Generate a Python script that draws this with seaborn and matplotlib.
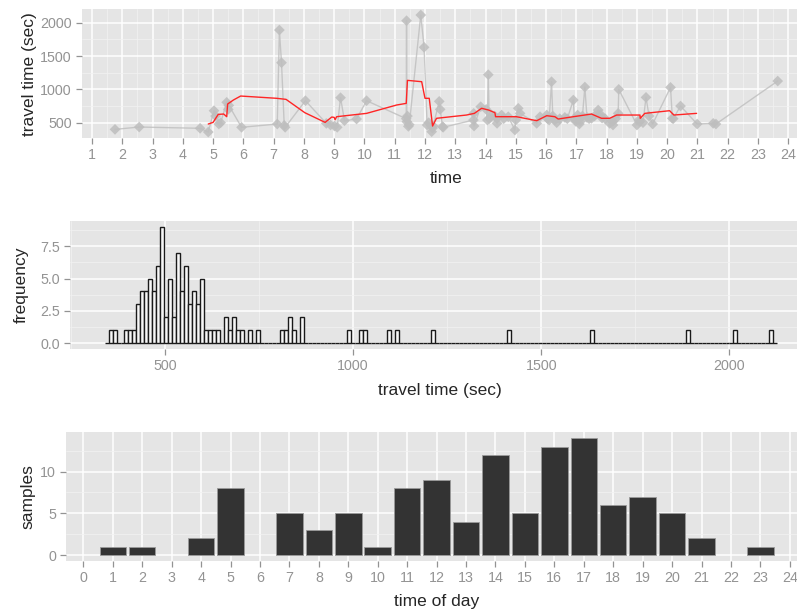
import numpy as np
import pandas as pd
import seaborn as sns
import matplotlib.pyplot as plt
from matplotlib.ticker import FixedLocator

# travel time samples (hour of day, seconds)
times = [1.76, 2.56, 4.57, 4.84,
         5.03, 5.08, 5.19, 5.25, 5.45, 5.50, 5.52, 5.94,
         7.12, 7.19, 7.26, 7.35, 7.38,
         8.05, 8.74, 8.88,
         9.01, 9.10, 9.21, 9.34, 9.74,
         10.07,
         11.38, 11.39, 11.40, 11.42, 11.45, 11.48, 11.86, 11.97,
         12.07, 12.12, 12.22, 12.25, 12.27, 12.47, 12.50, 12.58, 12.60,
         13.60, 13.61, 13.62, 13.84,
         14.02, 14.06, 14.09, 14.12, 14.20, 14.30, 14.37, 14.38, 14.53, 14.60, 14.75, 14.97,
         15.00, 15.08, 15.14, 15.69, 15.80,
         16.02, 16.05, 16.10, 16.18, 16.22, 16.29, 16.35, 16.45, 16.62, 16.70, 16.90, 16.93, 16.98,
         17.04, 17.06, 17.10, 17.13, 17.20, 17.28, 17.35, 17.42, 17.50, 17.60, 17.72, 17.80, 17.85, 17.95,
         18.10, 18.20, 18.21, 18.30, 18.38, 18.40,
         19.00, 19.07, 19.10, 19.20, 19.30, 19.40, 19.52,
         20.11, 20.17, 20.20, 20.44, 20.99,
         21.52, 21.61,
         23.65]
travel = [400, 435, 416, 360,
          680, 600, 480, 500, 806, 700, 760, 431,
          480, 1890, 1400, 460, 431,
          830, 490, 465,
          450, 431, 875, 530, 555,
          830,
          560, 2030, 515, 600, 445, 470, 2115, 1631,
          465, 500, 365, 420, 450, 820, 700, 440, 431,
          540, 640, 450, 740,
          700, 540, 1220, 560, 615, 600, 566, 490, 615, 560, 590, 390,
          540, 716, 640, 490, 590,
          615, 560, 540, 1115, 600, 540, 500, 560, 580, 560, 840, 560, 520,
          615, 540, 480, 520, 600, 1035, 580, 560, 566, 600, 690, 620, 570, 560,
          490, 520, 465, 560, 640, 1000,
          465, 540, 520, 500, 880, 600, 480,
          1030, 566, 560, 750, 480,
          490, 480,
          1125]

# running average (red line)
avg_time = [4.84, 5.0, 5.17, 5.35, 5.45, 5.48, 5.67, 5.91, 7.1, 7.41, 8.03, 8.7, 8.92, 9.0,
            9.03, 9.08, 10.07, 11.06, 11.38, 11.42, 11.89, 12.0, 12.14, 12.25, 12.38, 13.37,
            13.63, 13.87, 14.1, 14.31, 14.33, 15.02, 15.69, 16.02, 16.29, 16.4, 16.9, 17.5,
            17.83, 18.1, 18.33, 19.1, 19.11, 19.26, 20.08, 20.22, 20.97]
avg_travel = [480, 505, 625, 630, 590, 780, 840, 900, 866, 850, 650, 505, 585, 580,
              545, 590, 640, 765, 790, 1135, 1115, 866, 866, 450, 566, 615,
              640, 716, 690, 650, 590, 590, 530, 605, 590, 555, 590, 630,
              566, 566, 615, 615, 566, 640, 680, 615, 640]

# histogram of travel time
hist_values = [356, 364, 396, 406, 417, 431, 442, 453, 464, 475, 485, 496, 506, 517, 526,
               536, 547, 558, 568, 578, 586, 596, 611, 622, 632, 643, 663, 673, 684, 694,
               705, 727, 742, 807, 818, 828, 839, 860, 990, 1019, 1030, 1099, 1116, 1211,
               1414, 1637, 1888, 2019, 2110]
hist_counts = [1, 1, 1, 1, 1, 3, 4, 4, 5, 4, 6, 9, 2, 5, 2,
               7, 4, 6, 3, 4, 3, 5, 1, 1, 1, 1, 2, 1, 2, 1,
               1, 1, 1, 1, 1, 2, 1, 2, 1, 1, 1, 1, 1, 1,
               1, 1, 1, 1, 1]

# samples per hour of day
hours = [1, 2, 4, 5, 7, 8, 9, 10, 11, 12, 13, 14, 15, 16, 17, 18, 19, 20, 21, 23]
hour_counts = [1, 1, 2, 8, 5, 3, 5, 1, 8, 9, 4, 12, 5, 13, 14, 6, 7, 5, 2, 1]

sns.set_theme(style="darkgrid", rc={
    "axes.facecolor": "#E5E5E5",
    "grid.color": "white",
    "axes.edgecolor": "#E5E5E5",
})
plt.rcParams["font.family"] = ["Liberation Sans", "DejaVu Sans"]

TICK_C = "#939393"
fig = plt.figure(figsize=(7.97, 6.11), dpi=100)
W, H = 797, 611


def add_panel(left, top, right, bottom):
    return fig.add_axes([left / W, 1 - bottom / H, (right - left) / W, (bottom - top) / H])


def style(ax):
    for s in ax.spines.values():
        s.set_visible(False)
    ax.grid(True, which="major", color="white", lw=1.1)
    ax.grid(True, which="minor", color="#F2F2F2", lw=0.5)
    ax.set_axisbelow(True)
    ax.tick_params(which="major", length=4, width=0.9, color=TICK_C, labelcolor=TICK_C,
                   labelsize=10.3, pad=3, bottom=True, left=True)
    ax.tick_params(which="minor", length=0, bottom=False, left=False)


# --- top: travel time over the day
ax1 = add_panel(81.7, 9.3, 811, 138.3)
df = pd.DataFrame({"time": times, "travel": travel})
sns.lineplot(data=df, x="time", y="travel", estimator=None, sort=False,
             color="#BEBEBE", lw=1, alpha=0.8, ax=ax1)
sns.scatterplot(data=df, x="time", y="travel", marker="D", s=30, color="#BEBEBE",
                edgecolor="none", alpha=0.85, ax=ax1)
sns.lineplot(x=avg_time, y=avg_travel, estimator=None, sort=False, color="#FF2525",
             lw=1.0, ax=ax1)
ax1.set_xlim(0.66, 24.75)
ax1.set_ylim(266, 2201)
ax1.xaxis.set_major_locator(FixedLocator(range(1, 25)))
ax1.xaxis.set_minor_locator(FixedLocator(np.arange(0.5, 25, 1.0)))
ax1.yaxis.set_major_locator(FixedLocator([500, 1000, 1500, 2000]))
ax1.yaxis.set_minor_locator(FixedLocator([250, 750, 1250, 1750]))
style(ax1)
ax1.set_xlabel("time", fontsize=12.5)
ax1.set_ylabel("travel time (sec)", fontsize=12.5)
ax1.xaxis.set_label_coords(0.5, -0.308)
ax1.xaxis.label.set_va("center")
ax1.yaxis.set_label_coords(-0.0718, 0.5)
ax1.yaxis.label.set_va("center")

# --- middle: histogram of travel time
ax2 = add_panel(70, 220.7, 810, 349.3)
sns.histplot(x=hist_values, weights=hist_counts, binwidth=10.6, binrange=(339.9, 2127),
             color="#F7F7F7", edgecolor="#1A1A1A", linewidth=1.0, alpha=1, ax=ax2)
ax2.set_xlim(248, 2214)
ax2.set_ylim(-0.45, 9.45)
ax2.xaxis.set_major_locator(FixedLocator([500, 1000, 1500, 2000]))
ax2.xaxis.set_minor_locator(FixedLocator([250, 750, 1250, 1750]))
ax2.yaxis.set_major_locator(FixedLocator([0, 2.5, 5, 7.5]))
ax2.yaxis.set_minor_locator(FixedLocator([1.25, 3.75, 6.25, 8.75]))
ax2.set_yticklabels(["0.0", "2.5", "5.0", "7.5"])
style(ax2)
ax2.set_xlabel("travel time (sec)", fontsize=12.5)
ax2.set_ylabel("frequency", fontsize=12.5)
ax2.xaxis.set_label_coords(0.5, -0.3165)
ax2.xaxis.label.set_va("center")
ax2.yaxis.set_label_coords(-0.0653, 0.5)
ax2.yaxis.label.set_va("center")

# --- bottom: samples per hour
ax3 = add_panel(65.7, 432.3, 807.5, 561)
sns.barplot(x=hours, y=hour_counts, native_scale=True, width=0.9, color="#333333",
            saturation=1, edgecolor="#9A9A9A", linewidth=0.6, ax=ax3)
ax3.set_xlim(-0.6, 24.6)
ax3.set_ylim(-0.7, 14.7)
ax3.xaxis.set_major_locator(FixedLocator(range(0, 25)))
ax3.xaxis.set_minor_locator(FixedLocator([]))
ax3.set_xticklabels([str(h) for h in range(0, 25)])
ax3.yaxis.set_major_locator(FixedLocator([0, 5, 10]))
ax3.yaxis.set_minor_locator(FixedLocator([2.5, 7.5, 12.5]))
style(ax3)
ax3.set_xlabel("time of day", fontsize=12.5)
ax3.set_ylabel("samples", fontsize=12.5)
ax3.xaxis.set_label_coords(0.5, -0.316)
ax3.xaxis.label.set_va("center")
ax3.yaxis.set_label_coords(-0.0504, 0.5)
ax3.yaxis.label.set_va("center")

fig.savefig("out.png", dpi=100)
